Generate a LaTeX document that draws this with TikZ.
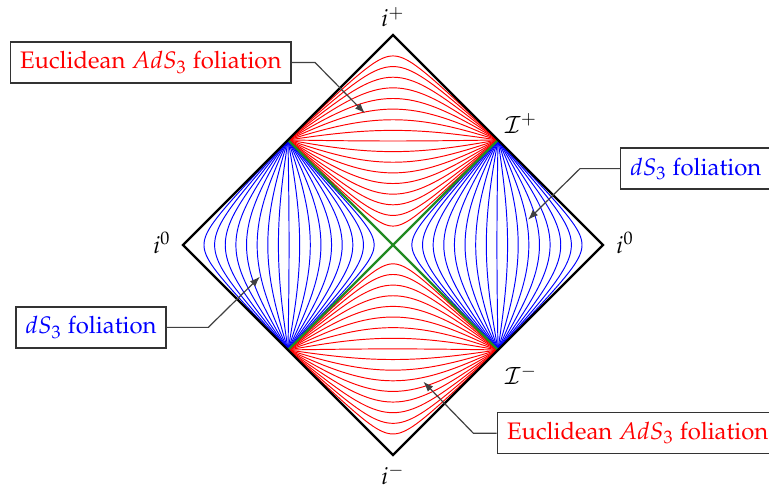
\documentclass[tikz,border=0pt]{standalone}
\usepackage[T1]{fontenc}
\usepackage{mathpazo}
\usetikzlibrary{arrows.meta}
\definecolor{conegreen}{RGB}{34,139,34}

\begin{document}
\begin{tikzpicture}[x=1.545cm,y=1.545cm,
  declare function={pzx(\pp,\qq)=(atan(\qq*exp(\pp))-atan(\qq*exp(-\pp)))/90;
                    pzt(\pp,\qq)=(atan(\qq*exp(\pp))+atan(\qq*exp(-\pp)))/90;},
  leaf/.style={line width=0.4pt},
  labelbox/.style={draw=black!80, fill=white, line width=0.6pt, inner sep=4pt},
  pointer/.style={draw=black!75, line width=0.5pt, -{Latex[length=1.5mm,width=1.1mm]}}]
  \useasboundingbox (-3.743,-2.381) rectangle (3.581,2.333);
  \coordinate (ip) at (0,2);   \coordinate (im) at (0,-2);
  \coordinate (iL) at (-2,0);  \coordinate (iR) at (2,0);
  \coordinate (scriTR) at (1,1);   \coordinate (scriTL) at (-1,1);
  \coordinate (scriBR) at (1,-1);  \coordinate (scriBL) at (-1,-1);
  % hyperbolic slicings
  \foreach \k in {0,...,16}{
    \pgfmathsetmacro\ac{tan(45*(0.18+0.10125*\k))}
    \draw[red,leaf] (scriTL) -- plot[domain=-6:6,samples=121]
      ({pzx(\x,\ac)},{pzt(\x,\ac)}) -- (scriTR);
    \draw[red,leaf] (scriBL) -- plot[domain=-6:6,samples=121]
      ({pzx(\x,\ac)},{-pzt(\x,\ac)}) -- (scriBR);
    \draw[blue,leaf] (scriBR) -- plot[domain=-6:6,samples=121]
      ({pzt(\x,\ac)},{pzx(\x,\ac)}) -- (scriTR);
    \draw[blue,leaf] (scriBL) -- plot[domain=-6:6,samples=121]
      ({-pzt(\x,\ac)},{pzx(\x,\ac)}) -- (scriTL);
  }
  \draw[conegreen, line width=1pt] (scriBL) -- (scriTR) (scriTL) -- (scriBR);
  \draw[line width=1pt, line join=miter] (ip) -- (iR) -- (im) -- (iL) -- cycle;
  \node (lip) at (0,2.17) {$i^+$};
  \node (lim) at (0,-2.19) {$i^-$};
  \node (liL) at (-2.2,0.02) {$i^0$};
  \node (liR) at (2.21,0.02) {$i^0$};
  \node (lscp) at (1.22,1.16) {$\mathcal{I}^+$};
  \node (lscm) at (1.22,-1.24) {$\mathcal{I}^-$};
  % labels with pointers
  \node[labelbox, text=red, anchor=east] (adsT) at (-0.965,1.738) {Euclidean $AdS_3$ foliation};
  \node[labelbox, text=blue, anchor=west] (dsR) at (2.162,0.727) {$dS_3$ foliation};
  \node[labelbox, text=blue, anchor=east] (dsL) at (-2.155,-0.785) {$dS_3$ foliation};
  \node[labelbox, text=red, anchor=west] (adsB) at (0.988,-1.793) {Euclidean $AdS_3$ foliation};
  \coordinate (bendA) at (-0.743,1.738);  \coordinate (tipA) at (-0.267,1.254);
  \coordinate (bendB) at (1.781,0.727);   \coordinate (tipB) at (1.286,0.24);
  \coordinate (bendC) at (-1.759,-0.785); \coordinate (tipC) at (-1.267,-0.302);
  \coordinate (bendD) at (0.765,-1.793);  \coordinate (tipD) at (0.289,-1.302);
  \draw[pointer] (adsT.east) -- (bendA) -- (tipA);
  \draw[pointer] (dsR.west) -- (bendB) -- (tipB);
  \draw[pointer] (dsL.east) -- (bendC) -- (tipC);
  \draw[pointer] (adsB.west) -- (bendD) -- (tipD);
\end{tikzpicture}
\end{document}
